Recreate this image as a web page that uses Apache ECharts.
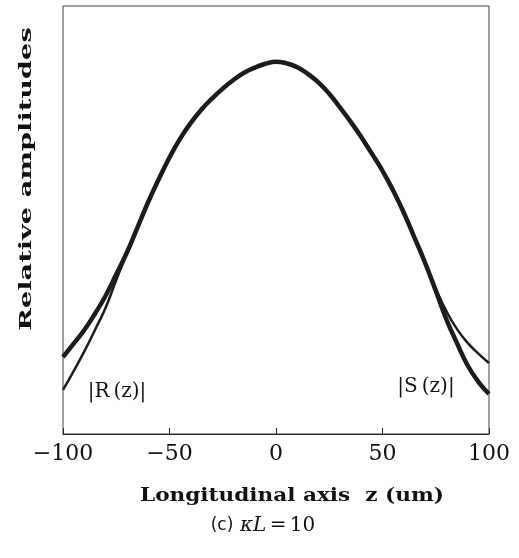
<!DOCTYPE html>
<html>
<head>
<meta charset="utf-8">
<script src="https://cdn.jsdelivr.net/npm/echarts@6/dist/echarts.min.js"></script>
<style>
  html, body { margin: 0; padding: 0; background: #fff; }
  #chart { width: 519px; height: 558px; }
</style>
</head>
<body>
<div id="chart"></div>
<script>
	// z positions (um)
	var zVals = [-100,-95,-90,-85,-80,-75,-70,-65,-60,-55,-50,-45,-40,-35,-30,-25,-20,-15,-10,-5,
		0,5,10,15,20,25,30,35,40,45,50,55,60,65,70,75,80,85,90,95,100];
	// |S(z)| - thick curve, high on the left
	var sVals = [0.180,0.211,0.243,0.281,0.323,0.373,0.424,0.483,0.542,0.596,0.646,0.690,0.727,0.758,0.784,0.807,0.827,0.844,0.856,0.865,
		0.870,0.866,0.857,0.841,0.821,0.795,0.763,0.730,0.694,0.655,0.615,0.569,0.517,0.459,0.400,0.335,0.268,0.212,0.160,0.122,0.094];
	// |R(z)| - thin curve, high on the right
	var rVals = [0.103,0.147,0.193,0.243,0.295,0.360,0.422,0.483,0.542,0.596,0.646,0.690,0.727,0.758,0.784,0.807,0.827,0.844,0.856,0.865,
		0.870,0.866,0.857,0.841,0.821,0.795,0.763,0.730,0.694,0.655,0.615,0.569,0.517,0.459,0.400,0.340,0.287,0.245,0.213,0.188,0.166];
	var xTicks = [-100, -50, 0, 50, 100];

	function pairs(ys) {
		var out = [];
		for (var i = 0; i < zVals.length; i++) out.push([zVals[i], ys[i]]);
		return out;
	}

	var chart = echarts.init(document.getElementById('chart'));
	var serif = 'DejaVu Serif';
	var option = {
		animation: false,
		backgroundColor: '#fff',
		grid: {
			left: 63, right: 30, top: 6, bottom: 124,
			show: true, borderColor: '#444', borderWidth: 1
		},
		xAxis: {
			type: 'value',
			min: xTicks[0], max: xTicks[xTicks.length - 1], interval: 50,
			axisLine: { lineStyle: { color: '#222', width: 1 } },
			axisTick: { inside: true, length: 6, lineStyle: { color: '#222' } },
			splitLine: { show: false },
			axisLabel: {
				color: '#111', fontFamily: serif, fontSize: 22, margin: 9,
				formatter: function (v) { return v < 0 ? '\u2212' + Math.abs(v) : '' + v; }
			}
		},
		yAxis: {
			type: 'value', min: 0, max: 1,
			axisLine: { show: false },
			axisTick: { show: false },
			axisLabel: { show: false },
			splitLine: { show: false }
		},
		series: [
			{
				name: '|S(z)|', type: 'line', data: pairs(sVals),
				smooth: 0.5, showSymbol: false,
				lineStyle: { color: '#1c1c1c', width: 4.5 }
			},
			{
				name: '|R(z)|', type: 'line', data: pairs(rVals),
				smooth: 0.5, showSymbol: false,
				lineStyle: { color: '#1c1c1c', width: 2.5 }
			}
		],
		graphic: [
			{ type: 'text', x: 117, y: 392,
				style: { text: '|R\u2009(z)|', fill: '#111', font: '20px "DejaVu Serif"',
					align: 'center', verticalAlign: 'middle' } },
			{ type: 'text', x: 426, y: 387,
				style: { text: '|S\u2009(z)|', fill: '#111', font: '20px "DejaVu Serif"',
					align: 'center', verticalAlign: 'middle' } },
			{ type: 'text', x: 292, y: 496, scaleX: 1.2,
				style: { text: 'Longitudinal axis  z (um)', fill: '#111', font: 'bold 18px "DejaVu Serif"',
					align: 'center', verticalAlign: 'middle' } },
			{ type: 'text', x: 27, y: 179, rotation: Math.PI / 2, scaleX: 1.6,
				style: { text: 'Relative amplitudes', fill: '#111', font: 'bold 17px "DejaVu Serif"',
					align: 'center', verticalAlign: 'middle' } },
			{ type: 'text', x: 263, y: 526,
				style: {
					text: '{a|(c)}  {b|κL} {c|=} {c|10}',
					align: 'center', verticalAlign: 'middle',
					rich: {
						a: { fontFamily: 'DejaVu Sans', fontSize: 17, fill: '#111' },
						b: { fontFamily: 'DejaVu Serif', fontStyle: 'italic', fontSize: 20, fill: '#111' },
						c: { fontFamily: 'DejaVu Serif', fontSize: 20, fill: '#111' }
					}
				} }
		]
	};
	chart.setOption(option);
	window.onresize = function() {
		chart.resize();
	};
</script>
</body>
</html>
